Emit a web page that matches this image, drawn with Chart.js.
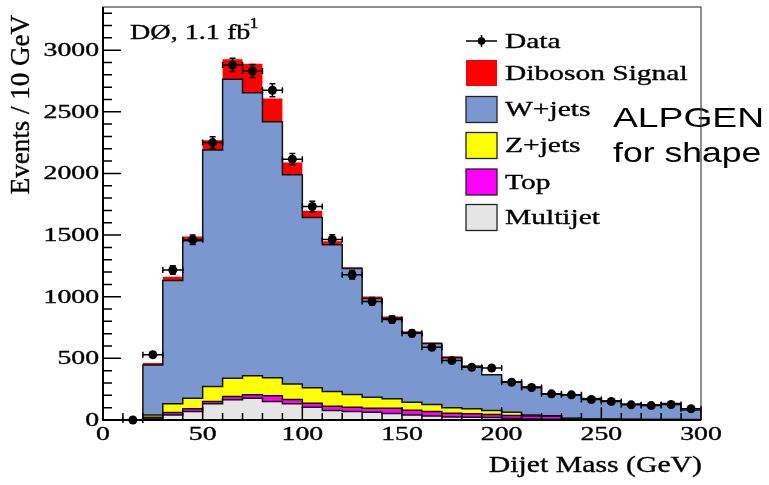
<!DOCTYPE html>
<html>
<head>
<meta charset="utf-8">
<title>Dijet Mass</title>
<script src="https://cdn.jsdelivr.net/npm/chart.js@4.4.1/dist/chart.umd.min.js"></script>
<style>
  html, body { margin: 0; padding: 0; background: #fff; }
  #wrap { position: relative; width: 769px; height: 485px; }
</style>
</head>
<body>
<div id="wrap"><canvas id="mass-chart" width="769" height="485"></canvas></div>
<script>
(function () {
  "use strict";

  // low edges of the 10 GeV bins that carry the MC stack
  var binLow = [20, 30, 40, 50, 60, 70, 80, 90, 100, 110, 120, 130, 140, 150,
    160, 170, 180, 190, 200, 210, 220, 230, 240, 250, 260, 270, 280, 290];

  // stack components, events per bin (bottom to top)
  var multijet = [8, 40, 69, 131, 164, 177, 150, 131, 104, 77, 69, 63, 52, 40,
    33, 25, 22, 20, 12, 8, 6, 4, 3, 3, 2, 2, 2, 1];
  var topPair = [14, 20, 22, 19, 26, 27, 46, 35, 32, 35, 35, 32, 43, 40,
    35, 30, 28, 25, 24, 24, 24, 8, 5, 4, 3, 2, 2, 2];
  var zJets = [18, 71, 86, 121, 149, 154, 146, 127, 125, 119, 103, 90, 77, 64,
    58, 44, 41, 32, 27, 8, 4, 2, 1, 1, 1, 1, 1, 1];
  var wJets = [407, 1001, 1277, 1920, 2425, 2297, 2078, 1696, 1382, 1191, 1021, 800, 653, 562,
    494, 405, 344, 290, 247, 224, 175, 188, 166, 148, 124, 119, 129, 78];
  var diboson = [16, 30, 35, 79, 162, 235, 187, 99, 54, 28, 12, 16, 15, 13,
    8, 13, 5, 4, 4, 11, 3, 2, 2, 2, 1, 2, 2, 1];

  // data points (bin centres) with errors
  var dataMass = [15, 25, 35, 45, 55, 65, 75, 85, 95, 105, 115, 125, 135, 145, 155,
    165, 175, 185, 195, 205, 215, 225, 235, 245, 255, 265, 275, 285, 295];
  var dataEvents = [0, 530, 1217, 1462, 2250, 2880, 2831, 2675, 2116, 1732, 1465, 1178, 962, 815, 703,
    590, 482, 428, 421, 306, 264, 212, 204, 166, 150, 123, 117, 126, 91];
  var dataErr = [0, 23, 35, 38, 47, 54, 53, 52, 46, 42, 38, 34, 31, 29, 27,
    24, 22, 21, 21, 17, 16, 15, 14, 13, 12, 11, 11, 11, 10];

  var xTicks = [0, 50, 100, 150, 200, 250, 300];
  var yTicks = [0, 500, 1000, 1500, 2000, 2500, 3000];

  var SERIF = "'Liberation Serif', 'Times New Roman', serif";
  var SANS = "'Liberation Sans', Arial, sans-serif";

  var legendRows = [
    { label: "Data", marker: true },
    { label: "Diboson Signal", color: "#ff0000", border: false },
    { label: "W+jets", color: "#7b97d0", border: true },
    { label: "Z+jets", color: "#ffff00", border: true },
    { label: "Top", color: "#ff00ff", border: true },
    { label: "Multijet", color: "#e5e5e5", border: true }
  ];

  // cumulative stepped outline of the given layers
  function stepPoints(layers) {
    var pts = [{ x: binLow[0], y: 0 }];
    var sum = 0;
    for (var i = 0; i < binLow.length; i++) {
      sum = 0;
      layers.forEach(function (arr) { sum += arr[i]; });
      pts.push({ x: binLow[i], y: sum });
    }
    pts.push({ x: binLow[binLow.length - 1] + 10, y: sum });
    return pts;
  }

  function stackSet(layers, color, order, outline) {
    return {
      data: stepPoints(layers),
      stepped: true,
      fill: "origin",
      backgroundColor: color,
      borderColor: outline ? "#111" : color,
      borderWidth: outline ? 1.5 : 0,
      pointRadius: 0,
      order: order
    };
  }

  // stretched text; a hairline stroke thickens the thin serif a little
  function wideText(ctx, str, x, y, font, sx, align, baseline, heavy) {
    ctx.save();
    ctx.translate(x, y);
    ctx.scale(sx, 1);
    ctx.font = font;
    ctx.textAlign = align || "left";
    ctx.textBaseline = baseline || "middle";
    ctx.fillStyle = "#000";
    ctx.fillText(str, 0, 0);
    if (heavy) {
      ctx.strokeStyle = "#000";
      ctx.lineWidth = 0.35;
      ctx.strokeText(str, 0, 0);
    }
    ctx.restore();
  }

  var errorBars = {
    id: "errorBars",
    afterDatasetsDraw: function (chart) {
      var ctx = chart.ctx;
      var xs = chart.scales.x;
      var ys = chart.scales.y;
      ctx.save();
      ctx.strokeStyle = "#000";
      ctx.lineWidth = 1.5;
      for (var i = 0; i < dataMass.length; i++) {
        var px = xs.getPixelForValue(dataMass[i]);
        var py = ys.getPixelForValue(dataEvents[i]);
        var x0 = xs.getPixelForValue(dataMass[i] - 5);
        var x1 = xs.getPixelForValue(dataMass[i] + 5);
        ctx.beginPath();
        ctx.moveTo(x0, py); ctx.lineTo(x1, py);
        ctx.moveTo(x0, py - 3); ctx.lineTo(x0, py + 3);
        ctx.moveTo(x1, py - 3); ctx.lineTo(x1, py + 3);
        if (dataErr[i] > 0) {
          var y0 = ys.getPixelForValue(dataEvents[i] - dataErr[i]);
          var y1 = ys.getPixelForValue(dataEvents[i] + dataErr[i]);
          ctx.moveTo(px, y0); ctx.lineTo(px, y1);
          ctx.moveTo(px - 3, y0); ctx.lineTo(px + 3, y0);
          ctx.moveTo(px - 3, y1); ctx.lineTo(px + 3, y1);
        }
        ctx.stroke();
      }
      ctx.restore();
    }
  };

  var frameAndText = {
    id: "frameAndText",
    afterDraw: function (chart) {
      var ctx = chart.ctx;
      var a = chart.chartArea;
      var xs = chart.scales.x;
      var ys = chart.scales.y;
      var v, p, i;

      // annotation from the slide
      wideText(ctx, "ALPGEN", 613, 127, "28px " + SANS, 1.33, "left", "alphabetic");
      wideText(ctx, "for shape", 613, 162, "28px " + SANS, 1.27, "left", "alphabetic");

      ctx.save();
      // frame
      ctx.strokeStyle = "#444";
      ctx.lineWidth = 1.2;
      ctx.strokeRect(a.left, a.top, a.right - a.left, a.bottom - a.top);
      ctx.strokeStyle = "#000";
      ctx.lineWidth = 2;
      ctx.beginPath();
      ctx.moveTo(a.left, a.top); ctx.lineTo(a.left, a.bottom); ctx.lineTo(a.right, a.bottom);
      ctx.stroke();

      // ticks drawn inside the frame
      ctx.lineWidth = 1.5;
      ctx.beginPath();
      for (v = 0; v <= ys.max; v += 100) {
        p = ys.getPixelForValue(v);
        ctx.moveTo(a.left, p);
        ctx.lineTo(a.left + (v % 500 === 0 ? 18 : 9), p);
      }
      for (v = 0; v <= xs.max; v += 10) {
        p = xs.getPixelForValue(v);
        ctx.moveTo(p, a.bottom);
        ctx.lineTo(p, a.bottom - (v % 50 === 0 ? 13 : 7));
      }
      ctx.stroke();
      ctx.restore();

      // tick labels
      yTicks.forEach(function (t) {
        wideText(ctx, String(t), 99, ys.getPixelForValue(t) + 1, "18.5px " + SERIF, 1.5, "right", "middle", true);
      });
      xTicks.forEach(function (t) {
        wideText(ctx, String(t), xs.getPixelForValue(t), 435, "18.5px " + SERIF, 1.5, "center", "middle", true);
      });

      // axis titles
      wideText(ctx, "Dijet Mass (GeV)", 702, 466, "24px " + SERIF, 1.24, "right", "middle", true);
      ctx.save();
      ctx.translate(22, 15);
      ctx.rotate(-Math.PI / 2);
      ctx.font = "27px " + SERIF;
      ctx.textAlign = "right";
      ctx.textBaseline = "middle";
      ctx.fillStyle = "#000";
      ctx.fillText("Events / 10 GeV", 0, 0);
      ctx.strokeStyle = "#000";
      ctx.lineWidth = 0.35;
      ctx.strokeText("Events / 10 GeV", 0, 0);
      ctx.restore();

      // experiment label
      wideText(ctx, "D\u00d8, 1.1 fb", 130, 33, "22px " + SERIF, 1.28, "left", "middle", true);
      ctx.save();
      ctx.font = "22px " + SERIF;
      var w = ctx.measureText("D\u00d8, 1.1 fb").width * 1.28;
      ctx.restore();
      wideText(ctx, "-1", 130 + w - 7, 24, "14px " + SERIF, 1.28, "left", "middle", true);

      // legend
      var rowY = [41, 73, 109.5, 145.5, 182, 217.5];
      for (i = 0; i < legendRows.length; i++) {
        var row = legendRows[i];
        var cy = rowY[i];
        ctx.save();
        if (row.marker) {
          ctx.strokeStyle = "#000";
          ctx.lineWidth = 1.5;
          ctx.beginPath();
          ctx.moveTo(466, cy); ctx.lineTo(497, cy);
          ctx.moveTo(481.5, cy - 6); ctx.lineTo(481.5, cy + 6);
          ctx.stroke();
          ctx.fillStyle = "#000";
          ctx.beginPath();
          ctx.arc(481.5, cy, 3.8, 0, Math.PI * 2);
          ctx.fill();
        } else {
          ctx.fillStyle = row.color;
          ctx.fillRect(466, cy - 13, 31, 26);
          if (row.border) {
            ctx.strokeStyle = "#222";
            ctx.lineWidth = 1.3;
            ctx.strokeRect(466, cy - 13, 31, 26);
          }
        }
        ctx.restore();
        wideText(ctx, row.label, 505, cy + 1, "22px " + SERIF, 1.34, "left", "middle", true);
      }
    }
  };

  document.addEventListener("DOMContentLoaded", function () {
    var canvas = document.getElementById("mass-chart");
    if (!canvas || !window.Chart) {
      return;
    }
    new Chart(canvas, {
      type: "line",
      data: {
        datasets: [
          {
            label: "Data",
            data: dataMass.map(function (m, i) { return { x: m, y: dataEvents[i] }; }),
            showLine: false,
            pointRadius: 4.5,
            pointBackgroundColor: "#000",
            pointBorderWidth: 0,
            clip: false,
            order: 0
          },
          stackSet([multijet], "#e5e5e5", 1, true),
          stackSet([multijet, topPair], "#ff00ff", 2, true),
          stackSet([multijet, topPair, zJets], "#ffff00", 3, true),
          stackSet([multijet, topPair, zJets, wJets], "#7b97d0", 4, true),
          stackSet([multijet, topPair, zJets, wJets, diboson], "#ff0000", 5, false)
        ]
      },
      options: {
        responsive: false,
        animation: false,
        events: [],
        layout: { padding: { left: 103, top: 7, right: 68, bottom: 65 } },
        scales: {
          x: { type: "linear", min: 0, max: 300, display: false },
          y: { type: "linear", min: 0, max: 3350, display: false }
        },
        plugins: {
          legend: { display: false },
          tooltip: { enabled: false }
        }
      },
      plugins: [errorBars, frameAndText]
    });
  });
})();
</script>
</body>
</html>
